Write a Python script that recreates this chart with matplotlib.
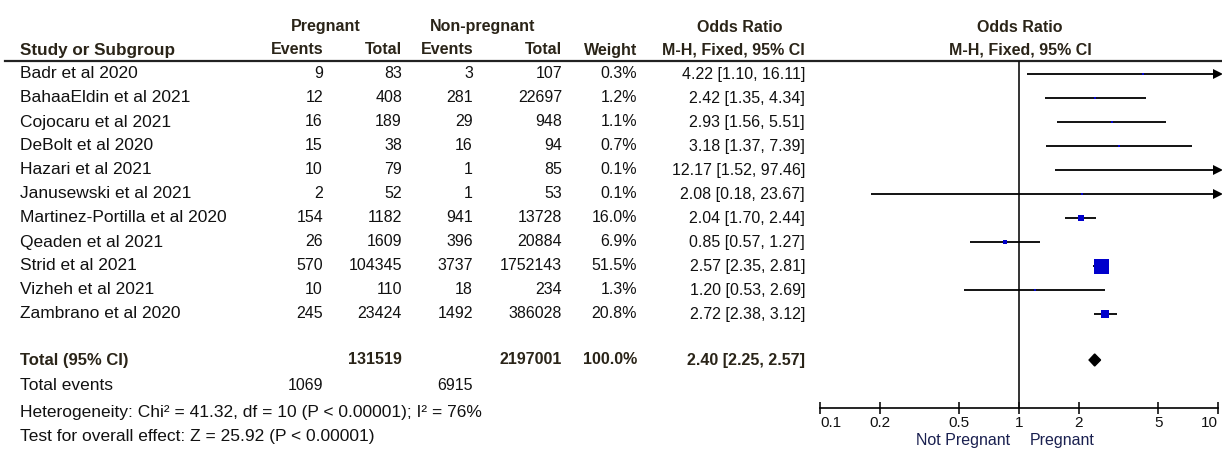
import numpy as np
import matplotlib
matplotlib.use("Agg")
import matplotlib.pyplot as plt

plt.rcParams['font.family'] = ['Liberation Sans', 'DejaVu Sans']

studies = ["Badr et al 2020", "BahaaEldin et al 2021", "Cojocaru et al 2021",
           "DeBolt et al 2020", "Hazari et al 2021", "Janusewski et al 2021",
           "Martinez-Portilla et al 2020", "Qeaden et al 2021", "Strid et al 2021",
           "Vizheh et al 2021", "Zambrano et al 2020"]
preg_events = [9, 12, 16, 15, 10, 2, 154, 26, 570, 10, 245]
preg_total = [83, 408, 189, 38, 79, 52, 1182, 1609, 104345, 110, 23424]
non_events = [3, 281, 29, 16, 1, 1, 941, 396, 3737, 18, 1492]
non_total = [107, 22697, 948, 94, 85, 53, 13728, 20884, 1752143, 234, 386028]
weight = [0.3, 1.2, 1.1, 0.7, 0.1, 0.1, 16.0, 6.9, 51.5, 1.3, 20.8]
odds = [4.22, 2.42, 2.93, 3.18, 12.17, 2.08, 2.04, 0.85, 2.57, 1.20, 2.72]
ci_lo = [1.10, 1.35, 1.56, 1.37, 1.52, 0.18, 1.70, 0.57, 2.35, 0.53, 2.38]
ci_hi = [16.11, 4.34, 5.51, 7.39, 97.46, 23.67, 2.44, 1.27, 2.81, 2.69, 3.12]

total_preg = 131519
total_non = 2197001
total_events_preg = 1069
total_events_non = 6915
pooled = (2.40, 2.25, 2.57)
ticks = [0.1, 0.2, 0.5, 1, 2, 5, 10]

W, H = 1222, 450
fig = plt.figure(figsize=(W / 100, H / 100), dpi=100)
bg = fig.add_axes([0, 0, 1, 1])
bg.set_xlim(0, W)
bg.set_ylim(H, 0)
bg.axis('off')

txt = '#111111'
hdr = '#2a2418'
fs = 11.5      # numbers
fl = 12.5      # left-hand labels

# column right edges
c_pe, c_pt, c_ne, c_nt, c_w, c_or = 323, 402, 473, 562, 637, 805

# headers
bg.text(326, 27, "Pregnant", ha='center', va='center', fontsize=fs, fontweight='bold', color=hdr)
bg.text(483, 27, "Non-pregnant", ha='center', va='center', fontsize=fs, fontweight='bold', color=hdr)
bg.text(740, 27, "Odds Ratio", ha='center', va='center', fontsize=fs, fontweight='bold', color=hdr)
bg.text(1020, 27, "Odds Ratio", ha='center', va='center', fontsize=fs, fontweight='bold', color=hdr)
y2 = 50
bg.text(20, y2, "Study or Subgroup", ha='left', va='center', fontsize=12.3, fontweight='bold', color=hdr)
for x, s in [(c_pe, "Events"), (c_pt, "Total"), (c_ne, "Events"), (c_nt, "Total"),
             (c_w, "Weight"), (c_or, "M-H, Fixed, 95% CI")]:
    bg.text(x, y2, s, ha='right', va='center', fontsize=fs, fontweight='bold', color=hdr)
bg.text(1020, y2, "M-H, Fixed, 95% CI", ha='center', va='center', fontsize=fs, fontweight='bold', color=hdr)
bg.plot([5, W], [61, 61], color='#222222', lw=1.6)

row_y = [74 + 24 * i for i in range(len(studies))]
for i, y in enumerate(row_y):
    bg.text(20, y, studies[i], ha='left', va='center', fontsize=fl, color=txt)
    bg.text(c_pe, y, str(preg_events[i]), ha='right', va='center', fontsize=fs, color=txt)
    bg.text(c_pt, y, str(preg_total[i]), ha='right', va='center', fontsize=fs, color=txt)
    bg.text(c_ne, y, str(non_events[i]), ha='right', va='center', fontsize=fs, color=txt)
    bg.text(c_nt, y, str(non_total[i]), ha='right', va='center', fontsize=fs, color=txt)
    bg.text(c_w, y, f"{weight[i]:.1f}%", ha='right', va='center', fontsize=fs, color=txt)
    bg.text(c_or, y, f"{odds[i]:.2f} [{ci_lo[i]:.2f}, {ci_hi[i]:.2f}]", ha='right', va='center',
            fontsize=fs, color=txt)

yt = 360
bg.text(20, yt, "Total (95% CI)", ha='left', va='center', fontsize=12, fontweight='bold', color=hdr)
bg.text(c_pt, yt, str(total_preg), ha='right', va='center', fontsize=fs, fontweight='bold', color=hdr)
bg.text(c_nt, yt, str(total_non), ha='right', va='center', fontsize=fs, fontweight='bold', color=hdr)
bg.text(c_w, yt, f"{sum(weight):.1f}%", ha='right', va='center', fontsize=fs, fontweight='bold', color=hdr)
bg.text(c_or, yt, f"{pooled[0]:.2f} [{pooled[1]:.2f}, {pooled[2]:.2f}]", ha='right', va='center',
        fontsize=fs, fontweight='bold', color=hdr)

bg.text(20, 386, "Total events", ha='left', va='center', fontsize=fl, color=txt)
bg.text(c_pe, 386, str(total_events_preg), ha='right', va='center', fontsize=fs, color=txt)
bg.text(c_ne, 386, str(total_events_non), ha='right', va='center', fontsize=fs, color=txt)
bg.text(20, 412, "Heterogeneity: Chi\u00b2 = 41.32, df = 10 (P < 0.00001); I\u00b2 = 76%",
        ha='left', va='center', fontsize=fl, color=txt)
bg.text(20, 436, "Test for overall effect: Z = 25.92 (P < 0.00001)",
        ha='left', va='center', fontsize=fl, color=txt)

# forest plot
x0, x1, ytop, yax = 820, 1218, 61, 408
ax = fig.add_axes([x0 / W, (H - yax) / H, (x1 - x0) / W, (yax - ytop) / H])
ax.set_xscale('log')
ax.set_xlim(0.1, 10)
ax.set_ylim(yax, ytop)
ax.patch.set_alpha(0)
for s in ['top', 'right', 'left']:
    ax.spines[s].set_visible(False)
ax.spines['bottom'].set_linewidth(1.2)
ax.set_yticks([])
ax.set_xticks(ticks)
ax.set_xticklabels([str(t) for t in ticks])
ax.xaxis.set_minor_locator(matplotlib.ticker.NullLocator())
ax.tick_params(axis='x', direction='inout', length=9, width=1.2, labelsize=11, pad=1, colors='#111111')
labels = ax.get_xticklabels()
labels[0].set_ha('left')
labels[-1].set_ha('right')
ax.axvline(1, color='#111111', lw=1.2)

for i, y in enumerate(row_y):
    hi = min(ci_hi[i], 10)
    ax.plot([ci_lo[i], hi], [y, y], color='black', lw=1.3, solid_capstyle='butt', clip_on=False)
    if ci_hi[i] > 10:
        ax.plot([10], [y], marker='>', ms=7, color='black', mew=0, clip_on=False)
    side = max(2.0, 15 * (weight[i] / 51.5) ** 0.78)
    ax.plot([odds[i]], [y], marker='s', ms=side * 0.72, color='#0000cc', mew=0, clip_on=False)

d = np.array([[pooled[1], yt], [pooled[0], yt - 6], [pooled[2], yt], [pooled[0], yt + 6]])
ax.fill(d[:, 0], d[:, 1], color='black', clip_on=False)

bg.text(1010, 441, "Not Pregnant", ha='right', va='center', fontsize=fs, color='#1a2050')
bg.text(1030, 441, "Pregnant", ha='left', va='center', fontsize=fs, color='#1a2050')

fig.savefig("out.png", dpi=100)
